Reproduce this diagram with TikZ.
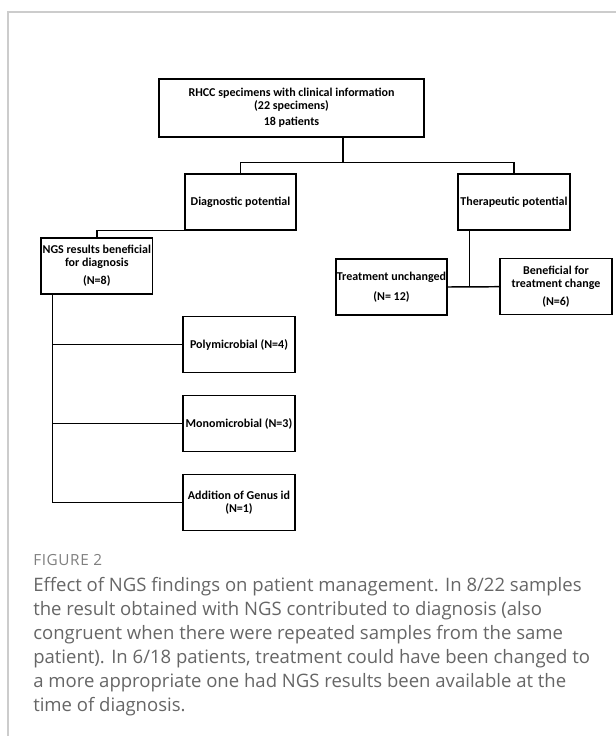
\documentclass[tikz,border=0pt]{standalone}
\usepackage{fontspec}
\setmainfont{Carlito}
\newfontfamily\capfont{Open Sans}
\definecolor{framegray}{HTML}{CCCCCC}
\definecolor{capgray}{HTML}{666666}
\definecolor{figgray}{HTML}{7F7F7F}

\begin{document}
\begin{tikzpicture}[
  x=0.75pt, y=-0.75pt,
  bnode/.style={draw,rectangle,line width=1.1pt,minimum width=83.5pt,minimum height=42pt,
    inner sep=0pt,align=center,font=\bfseries\fontsize{9}{9.6}\selectfont},
  link/.style={line width=1.1pt}
]
  \useasboundingbox (0,0) rectangle (616,736);

  % frame
  \draw[framegray,line width=0.8pt] (8,736) -- (8,12) -- (616,12);

  % boxes
  \node[bnode,minimum width=198.75pt,minimum height=43.5pt] (top) at (291.5,108)
    {RHCC specimens with clinical information\\(22 specimens)\\[2.4pt]18 patients};
  \node[bnode] (diag) at (240.5,202) {Diagnostic potential};
  \node[bnode,minimum width=84pt] (ther) at (514,202) {Therapeutic potential};
  \node[bnode] (ngs) at (96.8,266) {NGS results beneficial\\for diagnosis\\[4.2pt](N=8)};
  \node[bnode] (unch) at (391.5,287) {Treatment unchanged\\[5pt](N= 12)};
  \node[bnode,minimum width=84pt] (bene) at (556,286.7) {Beneficial for\\treatment change\\[3.6pt](N=6)};
  \node[bnode,minimum width=84pt] (poly) at (239,344.5) {Polymicrobial (N=4)};
  \node[bnode,minimum width=84pt] (mono) at (239,423.5) {Monomicrobial (N=3)};
  \node[bnode,minimum width=84pt] (addi) at (239,502.5) {Addition of Genus id\\(N=1)};

  % links
  \coordinate (split) at (343,163);
  \coordinate (spine) at (52.7,503);
  \coordinate (tj) at (469.3,287);
  \draw[link] (top.south -| split) -- (split);
  \draw[link] (diag.north) -- ++(0,-11) -| (ther.north);
  \draw[link] (diag.south west) -| (ngs.north);
  \draw[link] (ngs.south -| spine) |- (addi.west);
  \draw[link] (spine |- poly.west) -- (poly.west);
  \draw[link] (spine |- mono.west) -- (mono.west);
  \draw[link] (ther.south -| tj) -- (tj);
  \draw[link] (unch.east) -- (bene.west);

  % caption
  \node[anchor=base west,inner sep=0pt,text=figgray,font=\capfont\fontsize{11.5}{13}\selectfont\addfontfeatures{LetterSpace=4}] (fig) at (33,565.5) {FIGURE 2};
  \node[anchor=base west,inner sep=0pt,align=left,text=capgray,font=\capfont\fontsize{13.9}{18}\selectfont] (cap) at (33,711)
    {Effect of NGS findings on patient management. In 8/22 samples\\
     the result obtained with NGS contributed to diagnosis (also\\
     congruent when there were repeated samples from the same\\
     patient). In 6/18 patients, treatment could have been changed to\\
     a more appropriate one had NGS results been available at the\\
     time of diagnosis.};
\end{tikzpicture}
\end{document}
